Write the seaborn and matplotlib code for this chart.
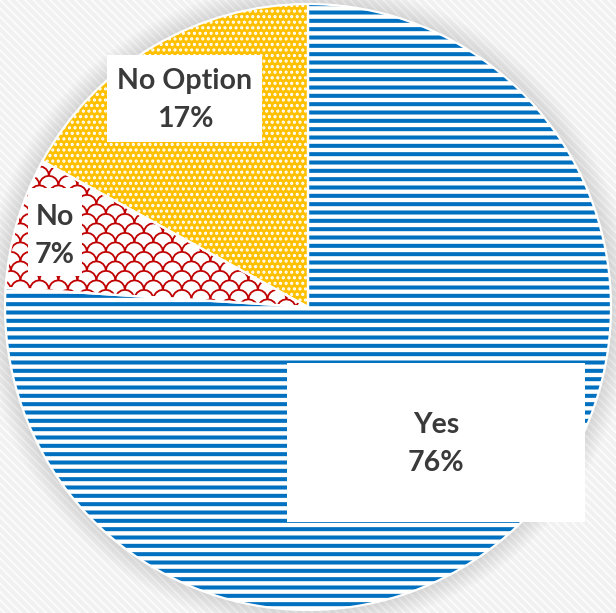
import numpy as np
import matplotlib
matplotlib.use("Agg")
import matplotlib.pyplot as plt
import seaborn as sns
from matplotlib.patches import Circle, Rectangle
from matplotlib.collections import LineCollection

# Survey answers and their shares (percent)
categories = ["Yes", "No", "No Option"]
shares = [76, 7, 17]

# Slice styling: base fill and pattern colour
face_colors = ["white", "white", "#FFC000"]
pattern_colors = ["#0070C0", "#C00000", "white"]

sns.set_theme(style="white")
plt.rcParams["font.family"] = ["Lato", "DejaVu Sans"]

W, H, DPI = 616, 613, 100
R_PX = 303            # pie radius in pixels
CX, CY = 308, 307     # pie centre in pixels (measured from top-left)
u = 1.0 / R_PX        # one pixel in data units


def px(x, y):
    """Pixel position (from top-left) to data coordinates."""
    return (x - CX) * u, (CY - y) * u


def set_hatch_lw(patch, lw):
    if hasattr(patch, "set_hatch_linewidth"):
        patch.set_hatch_linewidth(lw)
    else:
        patch._hatch_linewidth = lw


fig = plt.figure(figsize=(W / DPI, H / DPI), dpi=DPI)
fig.patch.set_facecolor("#f1f1f1")
fig.patch.set_edgecolor("#fcfcfc")
fig.patch.set_linewidth(0)
fig.patch.set_hatch("\\\\\\\\")
set_hatch_lw(fig.patch, 1.3)

ax = fig.add_axes([0, 0, 1, 1])

# soft shadow around the pie
for r in np.linspace(1.07, 1.0, 16):
    ax.add_patch(Circle((0, 0), r, facecolor="black", alpha=0.008,
                        linewidth=0, zorder=0))

wedges, _ = ax.pie(shares, startangle=90, counterclock=False, radius=1,
                   center=(0, 0), colors=face_colors,
                   wedgeprops=dict(linewidth=0))
for w, pc in zip(wedges, pattern_colors):
    w.set_edgecolor(pc)
    w.set_linewidth(0)
    w.set_zorder(1)

# Yes: horizontal stripes
wedges[0].set_hatch("--")
set_hatch_lw(wedges[0], 2.9)
# No Option: white dots
wedges[2].set_hatch("...")
set_hatch_lw(wedges[2], 1.5)

# No: red fish-scale pattern, clipped to its slice
sw, sh = 19 * u, 9.5 * u
segs = []
t = np.linspace(0, np.pi, 9)
row = 0
for y0 in np.arange(-0.1, 0.7, sh):
    off = (row % 2) * sw / 2
    for x0 in np.arange(-1.2 + off, 0.2, sw):
        xs = x0 + sw / 2 - np.cos(t) * sw / 2
        ys = y0 + np.sin(t) * sh
        segs.append(np.column_stack([xs, ys]))
    row += 1
scales = LineCollection(segs, colors=pattern_colors[1], linewidths=1.3,
                        zorder=1.5)
ax.add_collection(scales)
scales.set_clip_path(wedges[1])

# white separators and rim
ax.pie(shares, startangle=90, counterclock=False, radius=1, center=(0, 0),
       wedgeprops=dict(fill=False, edgecolor="white", linewidth=1.6,
                       zorder=2))

# label boxes (pixel extents) and text centres
boxes = {
    "Yes": ((287, 363), (585, 522), (436, 444)),
    "No": ((28, 188), (82, 276), (55, 236)),
    "No Option": ((107, 55), (262, 142), (185, 100)),
}
for cat, val in zip(categories, shares):
    (x0, y0), (x1, y1), (tx, ty) = boxes[cat]
    bx, by = px(x0, y1)
    ax.add_patch(Rectangle((bx, by), (x1 - x0) * u, (y1 - y0) * u,
                           facecolor="white", edgecolor="none", zorder=3))
    ax.text(*px(tx, ty), f"{cat}\n{val}%", ha="center", va="center",
            fontsize=20.5, fontweight="bold", color="#3a3a3a",
            linespacing=1.6, zorder=4)

ax.set_aspect("auto")
ax.set_xlim(-CX * u, (W - CX) * u)
ax.set_ylim(-(H - CY) * u, CY * u)
ax.axis("off")

fig.savefig("out.png", dpi=DPI, facecolor=fig.get_facecolor())
